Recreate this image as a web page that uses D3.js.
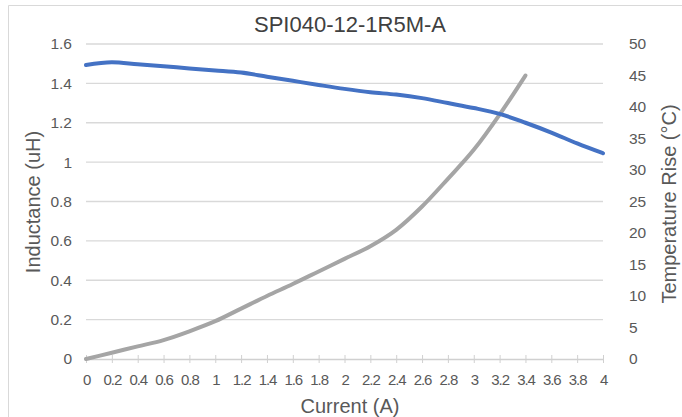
<!DOCTYPE html>
<html>
<head>
<meta charset="utf-8">
<title>SPI040-12-1R5M-A</title>
<script src="https://cdn.jsdelivr.net/npm/d3@7"></script>
<style>
  body { margin: 0; background: #fff; }
  svg { display: block; font-family: "Liberation Sans", Arial, sans-serif; }
</style>
</head>
<body>
<script>
// chart data
var current = [0, 0.2, 0.4, 0.6, 0.8, 1.0, 1.2, 1.4, 1.6, 1.8, 2.0, 2.2, 2.4, 2.6, 2.8, 3.0, 3.2, 3.4, 3.6, 3.8, 4.0];
var inductance = [1.493, 1.507, 1.497, 1.487, 1.476, 1.466, 1.455, 1.434, 1.413, 1.392, 1.372, 1.355, 1.343, 1.325, 1.300, 1.275, 1.245, 1.200, 1.150, 1.095, 1.045];
var tempRise = [0, 1.0, 2.0, 3.0, 4.4, 6.0, 8.0, 10.0, 11.9, 13.9, 15.9, 17.9, 20.5, 24.2, 28.6, 33.2, 38.8, 45.0];
var xTicks = [0, 0.2, 0.4, 0.6, 0.8, 1, 1.2, 1.4, 1.6, 1.8, 2, 2.2, 2.4, 2.6, 2.8, 3, 3.2, 3.4, 3.6, 3.8, 4];
var leftTicks = [0, 0.2, 0.4, 0.6, 0.8, 1, 1.2, 1.4, 1.6];
var rightTicks = [0, 5, 10, 15, 20, 25, 30, 35, 40, 45, 50];

var width = 682, height = 417;
var plot = { left: 86, right: 603, top: 44, bottom: 359 };

var svg = d3.select("body").append("svg")
    .attr("width", width)
    .attr("height", height);

// chart frame (only top and left edges show in the crop)
svg.append("path")
    .attr("d", "M8.5," + height + "V5.5H" + width)
    .attr("fill", "none")
    .attr("stroke", "#d9d9d9");

var x = d3.scaleLinear().domain([0, 4]).range([plot.left, plot.right]);
var yL = d3.scaleLinear().domain([0, 1.6]).range([plot.bottom, plot.top]);
var yR = d3.scaleLinear().domain([0, 50]).range([plot.bottom, plot.top]);

// gridlines
svg.append("g")
    .selectAll("line")
    .data(leftTicks.slice(1))
    .join("line")
    .attr("x1", plot.left).attr("x2", plot.right)
    .attr("y1", function(d) { return yL(d); })
    .attr("y2", function(d) { return yL(d); })
    .attr("stroke", "#d9d9d9")
    .attr("stroke-width", 1.3);

// x axis
var xAxis = svg.append("g")
    .attr("transform", "translate(0," + plot.bottom + ")")
    .call(d3.axisBottom(x).tickValues(xTicks).tickSize(0).tickPadding(15)
        .tickFormat(function(d) { return d3.format("~g")(d); }));
xAxis.select(".domain").attr("stroke", "#d0d0d0").attr("stroke-width", 1.3);
xAxis.selectAll(".tick line").remove();
xAxis.selectAll(".tick")
    .append("line")
    .attr("y1", -4).attr("y2", 4)
    .attr("stroke", "#d0d0d0");
xAxis.selectAll("text")
    .attr("fill", "#595959")
    .style("font-size", "15px")
    .style("letter-spacing", "-1.1px");

// left axis
var leftAxis = svg.append("g")
    .attr("transform", "translate(" + (plot.left - 14) + ",0)")
    .call(d3.axisLeft(yL).tickValues(leftTicks).tickSize(0).tickPadding(0)
        .tickFormat(function(d) { return d3.format("~g")(d); }));
leftAxis.select(".domain").remove();
leftAxis.selectAll("text")
    .attr("fill", "#595959")
    .style("font-size", "15.5px");

// right axis
var rightAxis = svg.append("g")
    .attr("transform", "translate(" + (plot.right + 26) + ",0)")
    .call(d3.axisRight(yR).tickValues(rightTicks).tickSize(0).tickPadding(0));
rightAxis.select(".domain").remove();
rightAxis.selectAll("text")
    .attr("fill", "#595959")
    .style("font-size", "15.5px");

// lines
var lineL = d3.line()
    .x(function(d, i) { return x(current[i]); })
    .y(function(d) { return yL(d); })
    .curve(d3.curveMonotoneX);
var lineR = d3.line()
    .x(function(d, i) { return x(current[i]); })
    .y(function(d) { return yR(d); })
    .curve(d3.curveMonotoneX);

svg.append("path")
    .datum(tempRise)
    .attr("d", lineR)
    .attr("fill", "none")
    .attr("stroke", "#a5a5a5")
    .attr("stroke-width", 4)
    .attr("stroke-linecap", "round");

svg.append("path")
    .datum(inductance)
    .attr("d", lineL)
    .attr("fill", "none")
    .attr("stroke", "#4472c4")
    .attr("stroke-width", 4)
    .attr("stroke-linecap", "round");

// titles
svg.append("text")
    .attr("x", 350).attr("y", 32)
    .attr("text-anchor", "middle")
    .attr("fill", "#404040")
    .style("font-size", "22px")
    .text("SPI040-12-1R5M-A");

svg.append("text")
    .attr("x", 350).attr("y", 413)
    .attr("text-anchor", "middle")
    .attr("fill", "#595959")
    .style("font-size", "20px")
    .text("Current (A)");

svg.append("text")
    .attr("transform", "translate(40,202) rotate(-90)")
    .attr("text-anchor", "middle")
    .attr("fill", "#595959")
    .style("font-size", "20px")
    .text("Inductance (uH)");

svg.append("text")
    .attr("transform", "translate(676,204) rotate(-90)")
    .attr("text-anchor", "middle")
    .attr("fill", "#595959")
    .style("font-size", "20px")
    .text("Temperature Rise (°C)");
</script>
</body>
</html>
